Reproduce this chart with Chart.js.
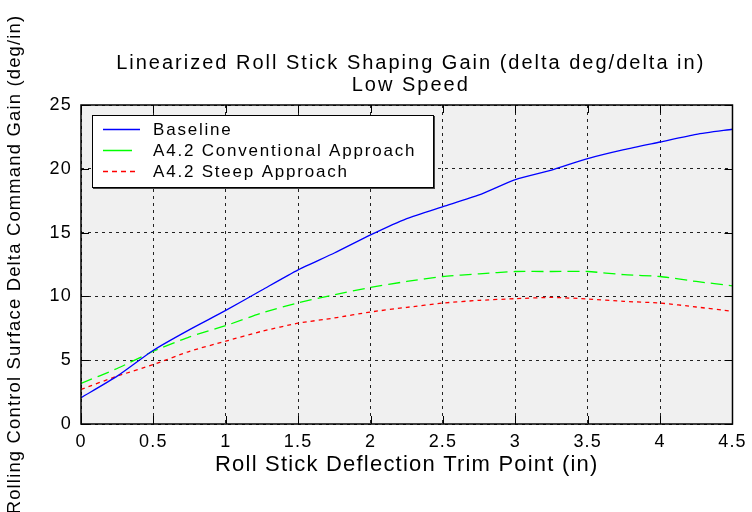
<!DOCTYPE html>
<html>
<head>
<meta charset="utf-8">
<script src="https://cdn.jsdelivr.net/npm/chart.js@4.4.0/dist/chart.umd.min.js"></script>
<style>
  html, body { margin: 0; padding: 0; background: #fff; }
</style>
</head>
<body>
<canvas id="myChart" width="752" height="512"></canvas>
<script>
// roll stick trim points (in)
const trimPoints = [0, 0.25, 0.5, 0.75, 1, 1.25, 1.5, 1.75, 2, 2.25, 2.5, 2.75, 3, 3.25, 3.5, 3.75, 4, 4.25, 4.5];
// gain values (deg/in)
const baseline = [2.06, 3.75, 5.78, 7.4, 8.9, 10.5, 12.08, 13.4, 14.82, 16.1, 17.03, 17.95, 19.15, 19.9, 20.8, 21.5, 22.1, 22.7, 23.1];
const conventional = [3.18, 4.35, 5.7, 6.83, 7.71, 8.7, 9.5, 10.13, 10.7, 11.17, 11.56, 11.77, 11.95, 11.95, 11.95, 11.7, 11.56, 11.17, 10.83];
const steep = [2.71, 3.75, 4.66, 5.7, 6.49, 7.27, 7.9, 8.31, 8.78, 9.14, 9.48, 9.69, 9.82, 9.92, 9.8, 9.61, 9.48, 9.17, 8.83];
const seriesNames = ['Baseline', 'A4.2 Conventional Approach', 'A4.2 Steep Approach'];
const titleLines = ['Linearized Roll Stick Shaping Gain (delta deg/delta in)', 'Low Speed'];
const xTicks = [0, 0.5, 1, 1.5, 2, 2.5, 3, 3.5, 4, 4.5];
const yTicks = [0, 5, 10, 15, 20, 25];

const FONT = '"Liberation Sans", Arial, sans-serif';

function pts(vals) {
  return trimPoints.map((x, i) => ({ x: x, y: vals[i] }));
}

// grey plot background, plus the slightly wide lettering of the original
const plotBg = {
  id: 'plotBg',
  beforeDraw(chart) {
    const a = chart.chartArea, ctx = chart.ctx;
    ctx.letterSpacing = '1.2px';
    ctx.save();
    ctx.fillStyle = '#f0f0f0';
    ctx.fillRect(a.left, a.top, a.right - a.left, a.bottom - a.top);
    ctx.restore();
  }
};

// two line title over the plot
const plotTitle = {
  id: 'plotTitle',
  afterDraw(chart) {
    const ctx = chart.ctx, a = chart.chartArea;
    const cx = (a.left + a.right) / 2 + 4;
    ctx.save();
    ctx.font = '20px ' + FONT;
    ctx.letterSpacing = '2px';
    ctx.fillStyle = '#000';
    ctx.textAlign = 'center';
    ctx.textBaseline = 'middle';
    titleLines.forEach((t, i) => ctx.fillText(t, cx, a.top - 42 + i * 22));
    ctx.restore();
  }
};

// legend box inside the plot, matlab style
const boxLegend = {
  id: 'boxLegend',
  afterDatasetsDraw(chart) {
    const ctx = chart.ctx, a = chart.chartArea;
    const x = a.left + 11, y = a.top + 10, w = 341, h = 72;
    ctx.save();
    ctx.fillStyle = '#444';
    ctx.fillRect(x + 1, y + 1, w + 1, h + 1);
    ctx.fillStyle = '#fff';
    ctx.fillRect(x, y, w, h);
    ctx.strokeStyle = '#000';
    ctx.lineWidth = 1;
    ctx.strokeRect(x + 0.5, y + 0.5, w, h);
    chart.data.datasets.forEach((ds, i) => {
      const ly = y + 14 + i * 21;
      ctx.setLineDash(ds.legendDash);
      ctx.strokeStyle = ds.borderColor;
      ctx.lineWidth = 1.5;
      ctx.beginPath();
      ctx.moveTo(x + 11, ly + 0.5);
      ctx.lineTo(x + 11 + ds.legendLen, ly + 0.5);
      ctx.stroke();
      ctx.setLineDash([]);
      ctx.fillStyle = '#000';
      ctx.font = '17px ' + FONT;
      ctx.letterSpacing = '1.8px';
      ctx.textBaseline = 'middle';
      ctx.fillText(ds.label, x + 61, ly + 1);
    });
    ctx.restore();
  }
};

// frame + inward tick marks
const frame = {
  id: 'frame',
  afterDraw(chart) {
    const ctx = chart.ctx, a = chart.chartArea;
    const xs = chart.scales.x, ys = chart.scales.y;
    const len = 8;
    ctx.save();
    ctx.strokeStyle = '#000';
    ctx.lineWidth = 1;
    ctx.beginPath();
    xTicks.forEach(v => {
      const px = Math.round(xs.getPixelForValue(v)) + 0.5;
      ctx.moveTo(px, a.bottom); ctx.lineTo(px, a.bottom - len);
      ctx.moveTo(px, a.top); ctx.lineTo(px, a.top + len);
    });
    yTicks.forEach(v => {
      const py = Math.round(ys.getPixelForValue(v)) + 0.5;
      ctx.moveTo(a.left, py); ctx.lineTo(a.left + len, py);
      ctx.moveTo(a.right, py); ctx.lineTo(a.right - len, py);
    });
    ctx.stroke();
    ctx.lineWidth = 1.5;
    ctx.strokeRect(a.left, a.top, a.right - a.left, a.bottom - a.top);
    ctx.restore();
  }
};

var ctx = document.getElementById('myChart').getContext('2d');

var rollChart = new Chart(ctx, {
  type: 'line',
  data: {
    datasets: [
      {
        label: seriesNames[0],
        data: pts(baseline),
        borderColor: '#0000ff',
        borderWidth: 1.3,
        pointRadius: 0,
        tension: 0.2,
        legendDash: [],
        legendLen: 37
      },
      {
        label: seriesNames[1],
        data: pts(conventional),
        borderColor: '#00ff00',
        borderWidth: 1.3,
        borderDash: [12, 6],
        pointRadius: 0,
        tension: 0.2,
        legendDash: [],
        legendLen: 29
      },
      {
        label: seriesNames[2],
        data: pts(steep),
        borderColor: '#ff0000',
        borderWidth: 1.3,
        borderDash: [4, 4],
        pointRadius: 0,
        tension: 0.2,
        legendDash: [5, 4],
        legendLen: 33
      }
    ]
  },
  options: {
    responsive: false,
    animation: false,
    layout: { padding: { left: 0, right: 15, top: 105, bottom: 0 } },
    plugins: {
      legend: { display: false },
      tooltip: { enabled: false },
      title: { display: false }
    },
    scales: {
      x: {
        type: 'linear',
        min: 0,
        max: 4.5,
        afterFit(scale) { scale.height = 88; },
        afterBuildTicks(scale) { scale.ticks = xTicks.map(v => ({ value: v })); },
        ticks: {
          color: '#000',
          font: { family: FONT, size: 18 },
          padding: 7,
          maxRotation: 0,
          callback: v => String(v)
        },
        grid: { color: '#222', drawTicks: false, lineWidth: 1 },
        border: { display: false, dash: [3, 4] },
        title: {
          display: true,
          text: 'Roll Stick Deflection Trim Point (in)',
          color: '#000',
          font: { family: FONT, size: 22 },
          padding: { top: 0, bottom: 34 }
        }
      },
      y: {
        min: 0,
        max: 25,
        afterFit(scale) { scale.width = 81; },
        afterBuildTicks(scale) { scale.ticks = yTicks.map(v => ({ value: v })); },
        ticks: {
          color: '#000',
          font: { family: FONT, size: 18 },
          padding: 9
        },
        grid: { color: '#222', drawTicks: false, lineWidth: 1 },
        border: { display: false, dash: [3, 4] },
        title: {
          display: true,
          text: 'Rolling Control Surface Delta Command Gain (deg/in)',
          color: '#000',
          font: { family: FONT, size: 18.4 },
          padding: { top: 4, bottom: 0 }
        }
      }
    }
  },
  plugins: [plotBg, plotTitle, boxLegend, frame]
});
</script>
</body>
</html>
